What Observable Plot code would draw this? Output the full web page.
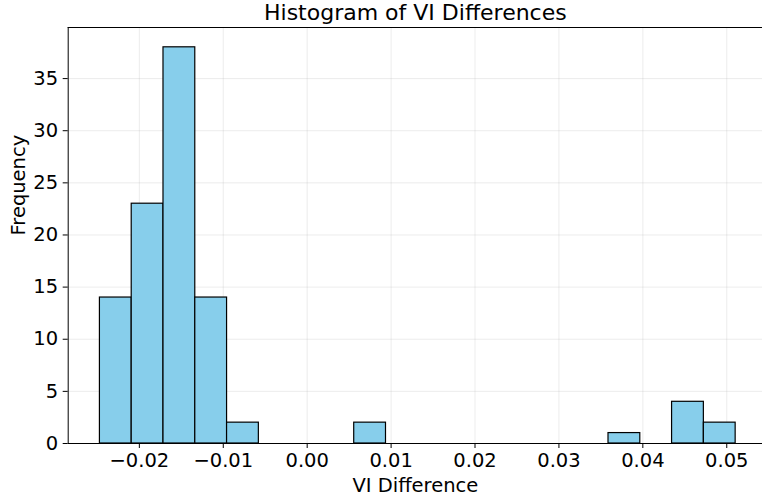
<!DOCTYPE html>
<html><head><meta charset="utf-8">
<script src="https://cdn.jsdelivr.net/npm/d3@7"></script>
<script src="https://cdn.jsdelivr.net/npm/@observablehq/plot@0.6"></script>
<style>
html,body{margin:0;padding:0;background:#fff;}
svg{font-family:"DejaVu Sans",sans-serif;}
</style></head>
<body><div id="chart"></div>
<script>
const binStart = [-0.0247,-0.020912,-0.017124,-0.013336,-0.009548,-0.00576,-0.001972,0.001816,0.005604,0.009392,0.01318,0.016968,0.020756,0.024544,0.028332,0.03212,0.035908,0.039696,0.043484,0.047272];
const binEnd = [-0.020912,-0.017124,-0.013336,-0.009548,-0.00576,-0.001972,0.001816,0.005604,0.009392,0.01318,0.016968,0.020756,0.024544,0.028332,0.03212,0.035908,0.039696,0.043484,0.047272,0.05106];
const counts = [14,23,38,14,2,0,0,0,2,0,0,0,0,0,0,0,1,0,4,2];
const xTicks = [-0.02,-0.01,0.00,0.01,0.02,0.03,0.04,0.05];
const xTickLabels = ["−0.02","−0.01","0.00","0.01","0.02","0.03","0.04","0.05"];
const yTicks = [0,5,10,15,20,25,30,35];
const title = "Histogram of VI Differences";
const xLabel = "VI Difference";
const yLabel = "Frequency";

const bins = binStart.map((s,i)=>({x1:s,x2:binEnd[i],y:counts[i]})).filter(d=>d.y>0);

const chart = Plot.plot({
  width: 762, height: 497,
  marginLeft: 67.7, marginRight: 0, marginTop: 27, marginBottom: 54,
  style: {fontFamily: "DejaVu Sans, sans-serif", fontSize: "19.5px", color: "#000", background: "#fff"},
  x: {domain: [-0.02848, 0.05426], label: null},
  y: {domain: [0, 39.9], label: null},
  marks: [
    Plot.gridX(xTicks, {stroke: "#b0b0b0", strokeOpacity: 0.3, strokeWidth: 0.8}),
    Plot.gridY(yTicks, {stroke: "#b0b0b0", strokeOpacity: 0.3, strokeWidth: 0.8}),
    Plot.rectY(bins, {x1: "x1", x2: "x2", y: "y", fill: "#87CEEB", stroke: "#000", strokeWidth: 1.2}),
    Plot.ruleY([0], {stroke: "#000", strokeWidth: 1}),
    Plot.ruleY([39.9], {stroke: "#000", strokeWidth: 1}),
    Plot.ruleX([-0.02848], {stroke: "#000", strokeWidth: 1}),
    Plot.axisX(xTicks, {tickFormat: (d)=>xTickLabels[xTicks.indexOf(d)], tickSize: 5, tickPadding: 5, fontSize: 19.5, label: null}),
    Plot.axisY(yTicks, {tickSize: 5, tickPadding: 5, fontSize: 19.5, label: null}),
    Plot.text([title], {frameAnchor: "top", lineAnchor: "middle", dy: -15, text: d=>d, fontSize: 22, fill: "#000"}),
    Plot.text([xLabel], {frameAnchor: "bottom", lineAnchor: "middle", dy: 42.5, text: d=>d, fontSize: 19.5, fill: "#000"}),
    Plot.text([yLabel], {frameAnchor: "left", lineAnchor: "middle", dx: -49, rotate: -90, text: d=>d, fontSize: 19.5, fill: "#000"})
  ]
});
document.getElementById("chart").appendChild(chart);
</script>
</body></html>
